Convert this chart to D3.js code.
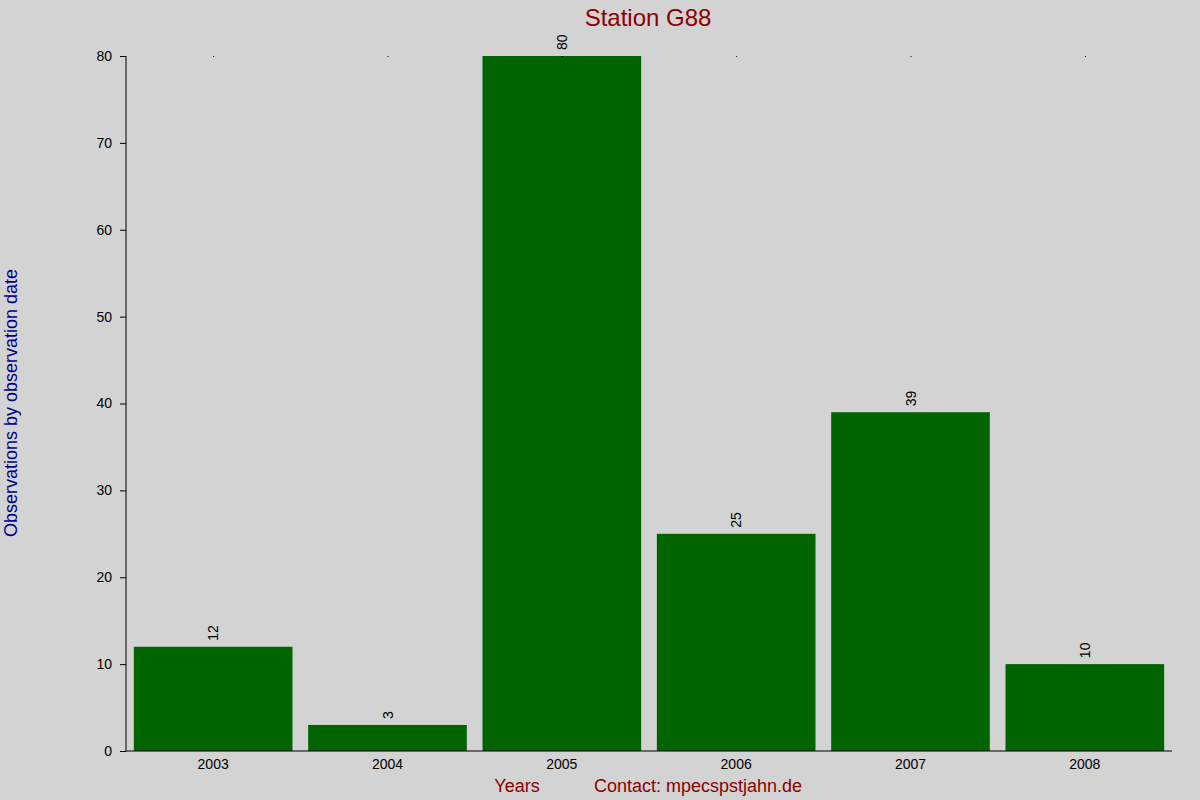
<!DOCTYPE html>
<html>
<head>
<meta charset="utf-8">
<script src="https://d3js.org/d3.v7.min.js"></script>
<style>
  body { margin: 0; background: #d3d3d3; }
  svg { font-family: "Liberation Sans", Arial, sans-serif; }
</style>
</head>
<body>
<div id="chart"></div>
<script>
var years = ["2003", "2004", "2005", "2006", "2007", "2008"];
var counts = [12, 3, 80, 25, 39, 10];
var yTicks = [0, 10, 20, 30, 40, 50, 60, 70, 80];

var width = 1200, height = 800;
var plotLeft = 126, plotRight = 1172, plotTop = 56, plotBottom = 751;

var svg = d3.select("#chart").append("svg")
  .attr("width", width).attr("height", height);
svg.append("rect").attr("width", width).attr("height", height).attr("fill", "#d3d3d3");

var x = d3.scaleBand().domain(years).range([plotLeft, plotRight]).paddingInner(0.09).paddingOuter(0.045);
var y = d3.scaleLinear().domain([0, 80]).range([plotBottom, plotTop]);

// bars
svg.selectAll("rect.bar").data(counts).enter().append("rect")
  .attr("class", "bar")
  .attr("x", function(d, i) { return x(years[i]); })
  .attr("width", x.bandwidth())
  .attr("y", function(d) { return y(d); })
  .attr("height", function(d) { return plotBottom - y(d); })
  .attr("fill", "#006400");

// value labels
svg.selectAll("text.val").data(counts).enter().append("text")
  .attr("class", "val")
  .attr("transform", function(d, i) {
    return "translate(" + (x(years[i]) + x.bandwidth() / 2 + 5) + "," + (y(d) - 6) + ") rotate(-90)";
  })
  .attr("font-size", 14)
  .text(function(d) { return d; });

// top dots
svg.selectAll("rect.dot").data(years).enter().append("rect")
  .attr("class", "dot")
  .attr("x", function(d) { return x(d) + x.bandwidth() / 2; })
  .attr("y", plotTop).attr("width", 1).attr("height", 1).attr("fill", "#000");

// axes
var yAxis = d3.axisLeft(y).tickValues(yTicks).tickSize(6).tickPadding(8);
var gy = svg.append("g").attr("transform", "translate(" + plotLeft + ",0)").call(yAxis);
gy.select(".domain").attr("d", "M0," + plotTop + "V" + plotBottom).attr("stroke", "#000");
gy.selectAll("text").attr("font-size", 14).attr("fill", "#000").attr("font-family", "Liberation Sans, Arial, sans-serif");

var xAxis = d3.axisBottom(x).tickSize(0).tickPadding(8);
var gx = svg.append("g").attr("transform", "translate(0," + plotBottom + ")").call(xAxis);
gx.select(".domain").attr("d", "M" + plotLeft + ",0H" + plotRight).attr("stroke", "#000");
gx.selectAll("text").attr("font-size", 14).attr("fill", "#000").attr("font-family", "Liberation Sans, Arial, sans-serif");

// titles
svg.append("text").attr("x", 648).attr("y", 26).attr("text-anchor", "middle")
  .attr("font-size", 24).attr("fill", "#8b0000").text("Station G88");
svg.append("text").attr("transform", "translate(17,403) rotate(-90)").attr("text-anchor", "middle")
  .attr("font-size", 18).attr("fill", "#00008b").text("Observations by observation date");
svg.append("text").attr("x", 517).attr("y", 792).attr("text-anchor", "middle")
  .attr("font-size", 18).attr("fill", "#8b0000").text("Years");
svg.append("text").attr("x", 698).attr("y", 792).attr("text-anchor", "middle")
  .attr("font-size", 18).attr("fill", "#8b0000").text("Contact: mpecspstjahn.de");
</script>
</body>
</html>
